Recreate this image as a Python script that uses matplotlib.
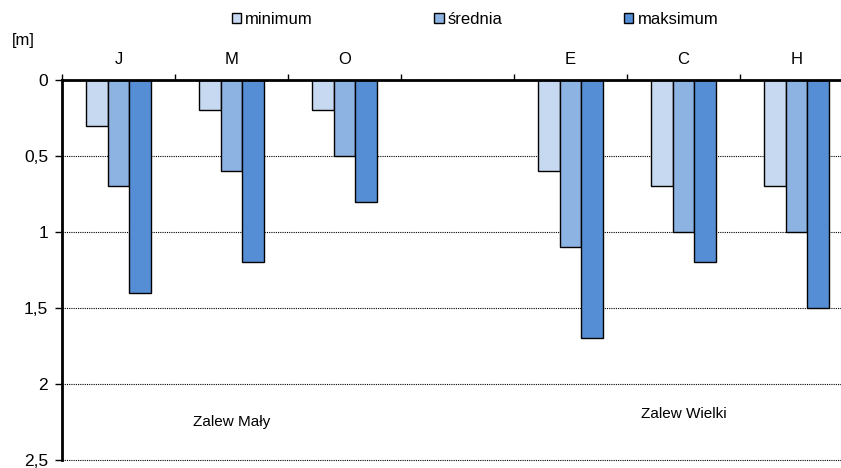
import numpy as np
import matplotlib.pyplot as plt
from matplotlib.patches import Patch

plt.rcParams['font.family'] = ['Liberation Sans', 'DejaVu Sans']

stations = ["J", "M", "O", "", "E", "C", "H"]
minimum = [0.3, 0.2, 0.2, np.nan, 0.6, 0.7, 0.7]
srednia = [0.7, 0.6, 0.5, np.nan, 1.1, 1.0, 1.0]
maksimum = [1.4, 1.2, 0.8, np.nan, 1.7, 1.2, 1.5]
series_names = ["minimum", "średnia", "maksimum"]
colors = ["#C6D9F1", "#8DB3E2", "#558ED5"]

fig = plt.figure(figsize=(8.41, 4.68), dpi=100)
ax = fig.add_axes([62/841, 8/468, 791/841, 380/468])

x = np.arange(len(stations))
w = 0.19
for i, vals in enumerate([minimum, srednia, maksimum]):
    ax.bar(x + (i - 1) * w, vals, width=w, color=colors[i],
           edgecolor="black", linewidth=1, zorder=3)

ax.set_xlim(-0.5, len(stations) - 0.5)
ax.set_ylim(2.5, 0)
ax.set_yticks([0, 0.5, 1, 1.5, 2, 2.5])
ax.set_yticklabels(["0", "0,5", "1", "1,5", "2", "2,5"], fontsize=12.5)
ax.yaxis.grid(True, linestyle=(0, (1, 1)), color="black", linewidth=0.8)
for gl in ax.get_ygridlines():
    gl.set_clip_on(False)

# station letters on top, small ticks between groups
ax.xaxis.tick_top()
ax.set_xticks(x)
ax.set_xticklabels(stations, fontsize=12)
ax.tick_params(axis="x", which="major", length=0, pad=9)
ax.set_xticks(np.arange(-0.5, len(stations)), minor=True)
ax.tick_params(axis="x", which="minor", length=4, width=1, direction="out")
ax.tick_params(axis="y", length=5, width=1, direction="out", pad=5)

for s in ["right", "bottom"]:
    ax.spines[s].set_visible(False)
ax.spines["top"].set_linewidth(2)
ax.spines["left"].set_linewidth(2)
ax.spines["top"].set_zorder(5)

ax.text(1.0, 2.25, "Zalew Mały", ha="center", va="center", fontsize=11)
ax.text(5.0, 2.2, "Zalew Wielki", ha="center", va="center", fontsize=11)

fig.text(12/841, 1 - 41/468, "[m]", ha="left", va="center", fontsize=12)

handles = [Patch(facecolor=c, edgecolor="black", linewidth=1) for c in colors]
fig.legend(handles, series_names, loc="center", ncol=3,
           bbox_to_anchor=(475/841, 1 - 19/468), frameon=False, fontsize=12,
           handlelength=0.55, handleheight=0.55, handletextpad=0.25,
           columnspacing=7.3)

fig.savefig("out.png", dpi=100)
